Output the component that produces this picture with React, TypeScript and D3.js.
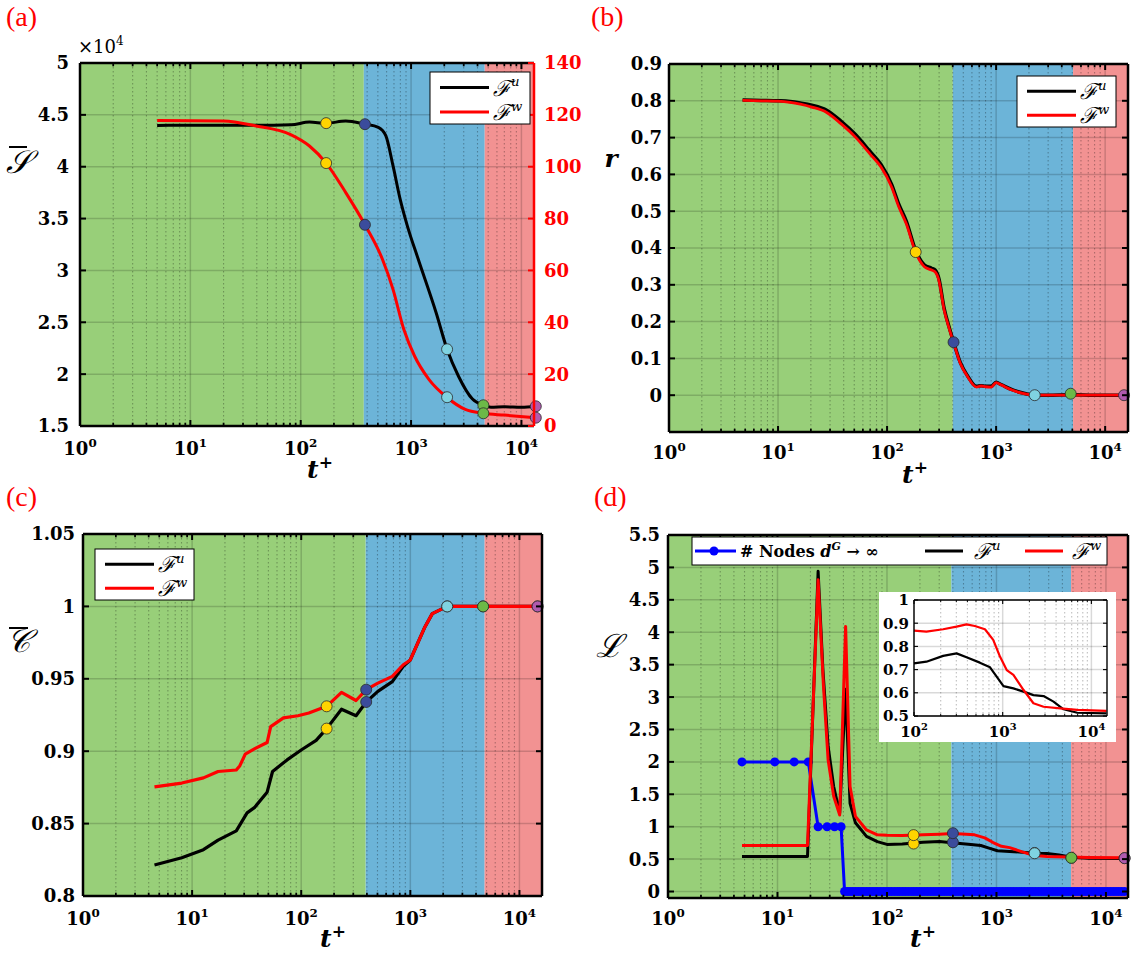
import React from 'react';
import * as d3 from 'd3';

const FONT = "'DejaVu Serif', serif";
const STAGE_COLORS = ['#FFD400', '#3B4C9C', '#7FD3E1', '#6CB947', '#B05AAE'];
const REGION_COLORS = ['#98CF79', '#6CB4D8', '#F29292'];

// ---------- Panel (a) ----------
const A_T_FU = [5, 10, 18, 40, 82, 120, 170, 256, 382, 505, 590, 686, 795, 925, 1160, 1690, 2120, 2690, 3600, 4520, 5300, 7000, 10000, 13500];
const A_FU = [4.398, 4.4, 4.4, 4.4, 4.405, 4.43, 4.42, 4.44, 4.41, 4.38, 4.3, 4.01, 3.69, 3.43, 3.11, 2.59, 2.24, 1.98, 1.76, 1.7, 1.68, 1.685, 1.68, 1.69];
const A_T_FW = [5, 20, 38.5, 82, 120, 170, 256, 382, 549, 685, 859, 1075, 1450, 2120, 3100, 4520, 7000, 13500];
const A_FW = [117.8, 117.6, 115.8, 112.3, 108, 101.4, 90, 77.6, 64.4, 52.8, 37.3, 27, 18, 11, 6.4, 4.9, 4.2, 3.2];
const A_MARK_T = [170, 382, 2120, 4520, 13500];
const A_MARK_FU = [4.42, 4.41, 2.24, 1.7, 1.69];
const A_MARK_FW = [101.4, 77.6, 11.1, 4.9, 3.2];
const A_REGIONS = [373, 4650];
const A_YTICKS = [1.5, 2, 2.5, 3, 3.5, 4, 4.5, 5];
const A_YTICKS_R = [0, 20, 40, 60, 80, 100, 120, 140];

// ---------- Panel (b) ----------
const B_T = [4.73, 7, 10, 12.9, 16, 20.4, 27.7, 37.7, 51, 69.6, 88, 110, 128, 150, 183, 220, 256, 276, 298, 334, 375, 407, 469, 546, 660, 730, 800, 900, 1000, 1110, 1400, 1760, 2260, 3000, 4830, 8000, 14900];
const B_FU = [0.802, 0.801, 0.8, 0.798, 0.794, 0.788, 0.775, 0.745, 0.709, 0.663, 0.627, 0.573, 0.519, 0.473, 0.393, 0.354, 0.345, 0.34, 0.318, 0.235, 0.18, 0.145, 0.089, 0.053, 0.024, 0.026, 0.024, 0.024, 0.035, 0.029, 0.015, 0.006, 0.0, 0.0, 0.001, 0.0, 0.0];
const B_FW = [0.801, 0.8, 0.799, 0.796, 0.791, 0.783, 0.769, 0.738, 0.702, 0.656, 0.62, 0.566, 0.512, 0.466, 0.388, 0.349, 0.34, 0.335, 0.313, 0.231, 0.177, 0.143, 0.087, 0.051, 0.022, 0.025, 0.023, 0.022, 0.034, 0.028, 0.014, 0.005, 0.0, 0.0, 0.0, 0.0, 0.0];
const B_MARK_T = [183, 407, 2260, 4830, 14900];
const B_MARK_V = [0.389, 0.144, 0.0, 0.004, 0.0];
const B_REGIONS = [401, 5080];
const B_YTICKS = [0, 0.1, 0.2, 0.3, 0.4, 0.5, 0.6, 0.7, 0.8, 0.9];

// ---------- Panel (c) ----------
const C_T_FW = [4.52, 8.04, 12.7, 17.3, 25.4, 27.4, 30.7, 37.2, 48.7, 52.5, 68.7, 93.3, 117.5, 171, 234, 318, 394, 504, 684, 861, 1000, 1169, 1364, 1590, 2178, 4645, 14660];
const C_FW = [0.8754, 0.878, 0.8816, 0.886, 0.887, 0.89, 0.898, 0.9016, 0.906, 0.917, 0.923, 0.9245, 0.9264, 0.931, 0.9406, 0.935, 0.9425, 0.947, 0.9517, 0.9597, 0.963, 0.9747, 0.986, 0.995, 1.0, 1.0, 1.0];
const C_T_FU = [4.52, 8.04, 12.7, 17.3, 25.4, 31.9, 37.2, 48.7, 54.6, 74.2, 100.7, 137, 171, 234, 318, 394, 504, 684, 861, 1000, 1169, 1364, 1590, 2178, 4645, 14660];
const C_FU = [0.8214, 0.8264, 0.832, 0.8386, 0.845, 0.8574, 0.861, 0.8717, 0.886, 0.894, 0.901, 0.9075, 0.9156, 0.929, 0.9245, 0.934, 0.9413, 0.948, 0.9586, 0.963, 0.9747, 0.986, 0.995, 1.0, 1.0, 1.0];
const C_MARK_T = [171, 394, 2178, 4645, 14660];
const C_MARK_FU = [0.9156, 0.934, 1.0, 1.0, 1.0];
const C_MARK_FW = [0.931, 0.9425, 1.0, 1.0, 1.0];
const C_REGIONS = [390, 4800];
const C_YTICKS = [0.8, 0.85, 0.9, 0.95, 1, 1.05];

// ---------- Panel (d) ----------
const D_T_FU = [4.74, 18.8, 23.5, 26, 29, 32.6, 37, 41.9, 46, 51.5, 65, 81.6, 100, 138, 213, 302, 391, 553, 720, 855, 1020, 1320, 1720, 2220, 2890, 3740, 4860, 6930, 14800];
const D_FU = [0.54, 0.54, 4.94, 3.42, 2.24, 1.62, 1.21, 3.12, 1.36, 1.06, 0.85, 0.77, 0.727, 0.734, 0.759, 0.77, 0.753, 0.73, 0.71, 0.67, 0.629, 0.619, 0.605, 0.59, 0.586, 0.562, 0.529, 0.514, 0.511];
const D_T_FW = [4.74, 18.8, 23.5, 26.3, 29, 32.6, 37, 41.9, 46, 51.5, 65, 81.6, 100, 138, 213, 302, 391, 485, 631, 782, 932, 1110, 1320, 1720, 2220, 2890, 4450, 6930, 14800];
const D_FW = [0.71, 0.71, 4.81, 3.17, 2.03, 1.47, 1.18, 4.09, 1.62, 1.16, 0.95, 0.875, 0.868, 0.864, 0.874, 0.885, 0.895, 0.888, 0.874, 0.828, 0.756, 0.698, 0.677, 0.612, 0.555, 0.54, 0.533, 0.526, 0.522];
const D_T_NODES = [
  4.74, 9.44, 14.2, 19.1, 23.5, 28.4, 33.2, 38.1,
  41, 43.5, 46, 48.8, 51.7, 54.8, 58.1, 61.6, 65.3, 69.2, 73.3, 77.7, 82.4, 87.3, 92.6, 98.1, 104, 110, 117, 124,
  131, 139, 147, 156, 166, 176, 186, 197, 209, 222, 235, 249, 264, 280, 297, 315, 333, 353, 375, 397,
  421, 446, 473, 501, 531, 563, 597, 633, 671, 711, 754, 799, 847, 898, 952, 1009, 1069, 1133, 1201, 1273,
  1350, 1431, 1517, 1608, 1704, 1806, 1915, 2030, 2151, 2280, 2417, 2562, 2716, 2879, 3052, 3235, 3429, 3635, 3853, 4084,
  4329, 4589, 4864, 5156, 5465, 5793, 6141, 6509, 6900, 7314, 7752, 8218, 8711, 9233, 9787, 10374, 10997, 11657, 12356, 13097,
  13883, 14800,
];
const D_NODES = [
  2, 2, 2, 2, 1, 1, 1, 1,
  0, 0, 0, 0, 0, 0, 0, 0, 0, 0, 0, 0, 0, 0, 0, 0, 0, 0, 0, 0,
  0, 0, 0, 0, 0, 0, 0, 0, 0, 0, 0, 0, 0, 0, 0, 0, 0, 0, 0, 0,
  0, 0, 0, 0, 0, 0, 0, 0, 0, 0, 0, 0, 0, 0, 0, 0, 0, 0, 0, 0,
  0, 0, 0, 0, 0, 0, 0, 0, 0, 0, 0, 0, 0, 0, 0, 0, 0, 0, 0, 0,
  0, 0, 0, 0, 0, 0, 0, 0, 0, 0, 0, 0, 0, 0, 0, 0, 0, 0, 0, 0,
  0, 0,
];
const D_MARK_T = [175, 400, 2230, 4830, 14800];
const D_MARK_FU = [0.74, 0.76, 0.595, 0.52, 0.515];
const D_MARK_FW = [0.87, 0.9, 0.59, 0.52, 0.515];
const D_REGIONS = [387, 4800];
const D_YTICKS = [0, 0.5, 1, 1.5, 2, 2.5, 3, 3.5, 4, 4.5, 5, 5.5];
const INSET_YTICKS = [0.5, 0.6, 0.7, 0.8, 0.9, 1];

type Geo = { l: number; r: number; t: number; b: number };
type Scale = (v: number) => number;

const fmt = (v: number) => String(+v.toFixed(2));

function Pow({ x, y, exp, size }: { x: number; y: number; exp: number; size: number }) {
  return (
    <text x={x} y={y} textAnchor="middle" fontFamily={FONT} fontWeight="bold" fontSize={size}>
      10<tspan dy={-size * 0.45} fontSize={size * 0.66}>{exp}</tspan>
    </text>
  );
}

function LogAxes(props: {
  geo: Geo; xMin: number; xMax: number; yDom: [number, number]; yTicks: number[];
  fontSize: number; labelGap: number; regions?: number[]; bg?: string;
  axisW: number; tickLen: number; rightAxisColor?: string; noRightTicks?: boolean;
  xLabelDy: number; children: (x: Scale, y: Scale) => React.ReactNode; gridOp: number;
}) {
  const { geo, xMin, xMax, yDom, yTicks, fontSize, labelGap, regions } = props;
  const x = d3.scaleLog().domain([xMin, xMax]).range([geo.l, geo.r]);
  const y = d3.scaleLinear().domain(yDom).range([geo.b, geo.t]);
  const majors: number[] = [];
  const minors: number[] = [];
  for (let e = Math.floor(Math.log10(xMin)); e <= Math.ceil(Math.log10(xMax)); e++) {
    const m = Math.pow(10, e);
    if (m >= xMin && m <= xMax * 1.0001) majors.push(m);
    for (let k = 2; k <= 9; k++) {
      const v = k * m;
      if (v > xMin && v < xMax) minors.push(v);
    }
  }
  const tl = props.tickLen;
  const rc = props.rightAxisColor || '#000';
  return (
    <g>
      {props.bg && <rect x={geo.l} y={geo.t} width={geo.r - geo.l} height={geo.b - geo.t} fill={props.bg} />}
      {regions && (
        <g>
          <rect x={geo.l} y={geo.t} width={x(regions[0]) - geo.l} height={geo.b - geo.t} fill={REGION_COLORS[0]} />
          <rect x={x(regions[0])} y={geo.t} width={x(regions[1]) - x(regions[0])} height={geo.b - geo.t} fill={REGION_COLORS[1]} />
          <rect x={x(regions[1])} y={geo.t} width={geo.r - x(regions[1])} height={geo.b - geo.t} fill={REGION_COLORS[2]} />
        </g>
      )}
      {minors.map((v, i) => (
        <line key={'mg' + i} x1={x(v)} x2={x(v)} y1={geo.t} y2={geo.b} stroke="#000" strokeOpacity={props.gridOp * 1.7} strokeWidth={1.1} strokeDasharray="1.5,2.5" />
      ))}
      {majors.map((v, i) => (
        <line key={'Mg' + i} x1={x(v)} x2={x(v)} y1={geo.t} y2={geo.b} stroke="#000" strokeOpacity={props.gridOp} strokeWidth={1.5} />
      ))}
      {yTicks.map((v, i) => (
        <line key={'yg' + i} x1={geo.l} x2={geo.r} y1={y(v)} y2={y(v)} stroke="#000" strokeOpacity={props.gridOp} strokeWidth={1.5} />
      ))}
      {props.children(x, y)}
      {majors.map((v, i) => (
        <g key={'xt' + i}>
          <line x1={x(v)} x2={x(v)} y1={geo.b} y2={geo.b - tl} stroke="#000" strokeWidth={props.axisW * 0.8} />
          <line x1={x(v)} x2={x(v)} y1={geo.t} y2={geo.t + tl} stroke="#000" strokeWidth={props.axisW * 0.8} />
          <Pow x={x(v)} y={geo.b + props.xLabelDy} exp={Math.round(Math.log10(v))} size={fontSize} />
        </g>
      ))}
      {minors.map((v, i) => (
        <g key={'xm' + i}>
          <line x1={x(v)} x2={x(v)} y1={geo.b} y2={geo.b - tl * 0.55} stroke="#000" strokeWidth={props.axisW * 0.7} />
          <line x1={x(v)} x2={x(v)} y1={geo.t} y2={geo.t + tl * 0.55} stroke="#000" strokeWidth={props.axisW * 0.7} />
        </g>
      ))}
      {yTicks.map((v, i) => (
        <g key={'yt' + i}>
          <line x1={geo.l} x2={geo.l + tl} y1={y(v)} y2={y(v)} stroke="#000" strokeWidth={props.axisW * 0.8} />
          {!props.noRightTicks && <line x1={geo.r} x2={geo.r - tl} y1={y(v)} y2={y(v)} stroke="#000" strokeWidth={props.axisW * 0.8} />}
          <text x={geo.l - labelGap} y={y(v)} dy="0.36em" textAnchor="end" fontFamily={FONT} fontWeight="bold" fontSize={fontSize}>{fmt(v)}</text>
        </g>
      ))}
      <line x1={geo.l} x2={geo.r} y1={geo.t} y2={geo.t} stroke="#000" strokeWidth={props.axisW} />
      <line x1={geo.l} x2={geo.r} y1={geo.b} y2={geo.b} stroke="#000" strokeWidth={props.axisW} />
      <line x1={geo.l} x2={geo.l} y1={geo.t} y2={geo.b} stroke="#000" strokeWidth={props.axisW} />
      <line x1={geo.r} x2={geo.r} y1={geo.t} y2={geo.b} stroke={rc} strokeWidth={props.axisW} />
    </g>
  );
}

function Series({ x, y, ts, vs, color, w, curve }: { x: Scale; y: Scale; ts: number[]; vs: number[]; color: string; w: number; curve?: any }) {
  const gen = d3.line<number>().x((_, i) => x(ts[i])).y((v) => y(v)).curve(curve || d3.curveLinear);
  return <path d={gen(vs) || ''} fill="none" stroke={color} strokeWidth={w} strokeLinejoin="round" />;
}

function Marks({ x, y, ts, vs, r }: { x: Scale; y: Scale; ts: number[]; vs: number[]; r: number }) {
  return (
    <g>
      {ts.map((t, i) => (
        <circle key={i} cx={x(t)} cy={y(vs[i])} r={r} fill={STAGE_COLORS[i]} stroke="#2a2a2a" strokeWidth={0.8} />
      ))}
    </g>
  );
}

function FLabel({ x, y, sup, size }: { x: number; y: number; sup: string; size: number }) {
  return (
    <text x={x} y={y} fontFamily={FONT} fontSize={size} fontStyle="italic">
      ℱ<tspan dy={-size * 0.42} fontSize={size * 0.6}>{sup}</tspan>
    </text>
  );
}

function Legend2({ x, y, w, h }: { x: number; y: number; w: number; h: number }) {
  const y1 = y + h * 0.3;
  const y2 = y + h * 0.77;
  return (
    <g>
      <rect x={x} y={y} width={w} height={h} fill="#fff" stroke="#000" strokeWidth={1} />
      <line x1={x + 10} x2={x + 59} y1={y1} y2={y1} stroke="#000" strokeWidth={3} />
      <line x1={x + 10} x2={x + 59} y1={y2} y2={y2} stroke="#f00" strokeWidth={3} />
      <FLabel x={x + 63} y={y1 + 8} sup="u" size={22} />
      <FLabel x={x + 63} y={y2 + 8} sup="w" size={22} />
    </g>
  );
}

function TLabel({ x, y }: { x: number; y: number }) {
  return (
    <text x={x} y={y} textAnchor="middle" fontFamily={FONT} fontWeight="bold" fontStyle="italic" fontSize={25}>
      t<tspan dy={-10} fontSize={17} fontStyle="normal">+</tspan>
    </text>
  );
}

function PanelTag({ x, y, s }: { x: number; y: number; s: string }) {
  return <text x={x} y={y} fontFamily="'Liberation Serif', serif" fontSize={28} fill="#f00">{s}</text>;
}

export default function App() {
  const gA: Geo = { l: 80, r: 534, t: 63, b: 426 };
  const gB: Geo = { l: 669, r: 1128, t: 64, b: 432 };
  const gC: Geo = { l: 83, r: 542, t: 534, b: 896 };
  const gD: Geo = { l: 668, r: 1128, t: 535, b: 898 };
  const gI: Geo = { l: 914, r: 1107, t: 600, b: 716 };
  const yAR = d3.scaleLinear().domain([0, 140]).range([gA.b, gA.t]);

  return (
    <svg width={1135} height={956} viewBox="0 0 1135 956" style={{ display: 'block', position: 'absolute', left: 0, top: 0, background: '#fff' }}>
      <rect width={1135} height={956} fill="#fff" />
      {/* ---------------- (a) ---------------- */}
      <PanelTag x={6} y={26} s="(a)" />
      <LogAxes geo={gA} xMin={1} xMax={13000} yDom={[1.5, 5]} yTicks={A_YTICKS} fontSize={18} labelGap={11}
        regions={A_REGIONS} axisW={2.5} tickLen={6} rightAxisColor="#f00" noRightTicks xLabelDy={29} gridOp={0.17}>
        {(x, y) => (
          <g>
            <Series x={x} y={y} ts={A_T_FU} vs={A_FU} color="#000" w={3} curve={d3.curveMonotoneX} />
            <Series x={x} y={yAR} ts={A_T_FW} vs={A_FW} color="#f00" w={3} curve={d3.curveMonotoneX} />
            <Marks x={x} y={y} ts={A_MARK_T} vs={A_MARK_FU} r={5.5} />
            <Marks x={x} y={yAR} ts={A_MARK_T} vs={A_MARK_FW} r={5.5} />
          </g>
        )}
      </LogAxes>
      {A_YTICKS_R.map((v, i) => (
        <g key={'ar' + i}>
          <line x1={gA.r} x2={gA.r - 6} y1={yAR(v)} y2={yAR(v)} stroke="#f00" strokeWidth={2} />
          <text x={gA.r + 10} y={yAR(v)} dy="0.36em" fontFamily={FONT} fontWeight="bold" fontSize={18} fill="#f00">{v}</text>
        </g>
      ))}
      <text x={78} y={53} fontFamily={FONT} fontSize={18}>×10<tspan dy={-8} fontSize={12}>4</tspan></text>
      <Legend2 x={430} y={72} w={100} h={52} />
      <TLabel x={320} y={478} />
      <text x={18} y={173} textAnchor="middle" fontFamily={FONT} fontStyle="italic" fontSize={32}>𝒮</text>
      <line x1={9} x2={27} y1={147} y2={147} stroke="#000" strokeWidth={2} />

      {/* ---------------- (b) ---------------- */}
      <PanelTag x={591} y={26} s="(b)" />
      <LogAxes geo={gB} xMin={1} xMax={16200} yDom={[-0.1, 0.9]} yTicks={B_YTICKS} fontSize={18} labelGap={7}
        regions={B_REGIONS} axisW={2.5} tickLen={6} xLabelDy={27} gridOp={0.17}>
        {(x, y) => (
          <g>
            <Series x={x} y={y} ts={B_T} vs={B_FU} color="#000" w={3.5} curve={d3.curveMonotoneX} />
            <Series x={x} y={y} ts={B_T} vs={B_FW} color="#f00" w={2.8} curve={d3.curveMonotoneX} />
            <Marks x={x} y={y} ts={B_MARK_T} vs={B_MARK_V} r={5.5} />
          </g>
        )}
      </LogAxes>
      <Legend2 x={1017} y={76} w={99} h={51} />
      <TLabel x={915} y={483} />
      <text x={611} y={167} textAnchor="middle" fontFamily={FONT} fontWeight="bold" fontStyle="italic" fontSize={25}>r</text>

      {/* ---------------- (c) ---------------- */}
      <PanelTag x={6} y={506} s="(c)" />
      <LogAxes geo={gC} xMin={1} xMax={16100} yDom={[0.8, 1.05]} yTicks={C_YTICKS} fontSize={18} labelGap={8}
        regions={C_REGIONS} axisW={2.5} tickLen={6} xLabelDy={29} gridOp={0.17}>
        {(x, y) => (
          <g>
            <Series x={x} y={y} ts={C_T_FU} vs={C_FU} color="#000" w={3.2} />
            <Series x={x} y={y} ts={C_T_FW} vs={C_FW} color="#f00" w={3.2} />
            <Marks x={x} y={y} ts={C_MARK_T} vs={C_MARK_FW} r={5.5} />
            <Marks x={x} y={y} ts={C_MARK_T} vs={C_MARK_FU} r={5.5} />
          </g>
        )}
      </LogAxes>
      <Legend2 x={95} y={549} w={99} h={51} />
      <TLabel x={333} y={947} />
      <text x={18} y={652} textAnchor="middle" fontFamily={FONT} fontStyle="italic" fontSize={32}>𝒞</text>
      <line x1={9} x2={28} y1={628} y2={628} stroke="#000" strokeWidth={2} />

      {/* ---------------- (d) ---------------- */}
      <PanelTag x={594} y={506} s="(d)" />
      <LogAxes geo={gD} xMin={1} xMax={15900} yDom={[-0.1, 5.5]} yTicks={D_YTICKS} fontSize={18} labelGap={8}
        regions={D_REGIONS} axisW={2.5} tickLen={6} xLabelDy={27} gridOp={0.17}>
        {(x, y) => (
          <g>
            <Series x={x} y={y} ts={D_T_NODES} vs={D_NODES} color="#0000ff" w={3} />
            {D_T_NODES.map((t, i) => (
              <circle key={'n' + i} cx={x(t)} cy={y(D_NODES[i])} r={4.5} fill="#0000ff" />
            ))}
            <Series x={x} y={y} ts={D_T_FU} vs={D_FU} color="#000" w={3} />
            <Series x={x} y={y} ts={D_T_FW} vs={D_FW} color="#f00" w={3} />
            <Marks x={x} y={y} ts={D_MARK_T} vs={D_MARK_FU} r={5.5} />
            <Marks x={x} y={y} ts={D_MARK_T} vs={D_MARK_FW} r={5.5} />
          </g>
        )}
      </LogAxes>
      <g>
        <rect x={692} y={537} width={415} height={28} fill="#fff" stroke="#000" strokeWidth={1} />
        <line x1={695} x2={736} y1={551} y2={551} stroke="#0000ff" strokeWidth={3} />
        <circle cx={714} cy={551} r={4.5} fill="#0000ff" />
        <text x={740} y={557} fontFamily={FONT} fontWeight="bold" fontSize={16}>
          # Nodes <tspan fontStyle="italic">d</tspan><tspan dy={-7} fontSize={11} fontStyle="italic">G</tspan><tspan dy={7}> → ∞</tspan>
        </text>
        <line x1={925} x2={963} y1={551} y2={551} stroke="#000" strokeWidth={3} />
        <FLabel x={974} y={559} sup="u" size={22} />
        <line x1={1025} x2={1063} y1={551} y2={551} stroke="#f00" strokeWidth={3} />
        <FLabel x={1072} y={559} sup="w" size={22} />
      </g>
      <rect x={879} y={592} width={237} height={150} fill="#fff" />
      <LogAxes geo={gI} xMin={100} xMax={15000} yDom={[0.5, 1]} yTicks={INSET_YTICKS} fontSize={15} labelGap={5}
        bg="#fff" axisW={1.4} tickLen={4} xLabelDy={21} gridOp={0.15}>
        {(x, y) => (
          <g>
            <Series x={x} y={y} ts={D_T_FU.slice(12)} vs={D_FU.slice(12)} color="#000" w={2.2} />
            <Series x={x} y={y} ts={D_T_FW.slice(12)} vs={D_FW.slice(12)} color="#f00" w={2.2} />
          </g>
        )}
      </LogAxes>
      <TLabel x={923} y={947} />
      <text x={609} y={657} textAnchor="middle" fontFamily={FONT} fontStyle="italic" fontSize={32}>ℒ</text>
    </svg>
  );
}
